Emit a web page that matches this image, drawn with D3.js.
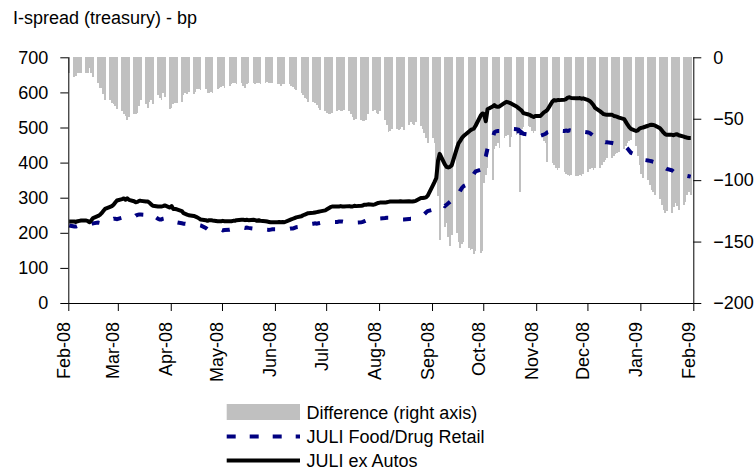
<!DOCTYPE html>
<html>
<head>
<meta charset="utf-8">
<script src="https://cdn.jsdelivr.net/npm/d3@7"></script>
<style>
  body { margin: 0; background: #fff; }
  svg text { font-family: "Liberation Sans", Arial, sans-serif; fill: #000; }
</style>
</head>
<body>
<svg id="chart" width="755" height="470"></svg>
<script>
// Trading-day series, 1 Feb 2008 (Fri) then one row per week, Mon..Fri, to 30 Jan 2009.
const difference = [
  -13,
  -16,-15,-13,-13,-13,   -13,-13,-9,-13,-16,    -21,-25,-25,-30,-35,   -35,-37,-38,-40,-42,
  -44,-46,-48,-51,-49,   -46,-46,-45,-40,-35,   -38,-41,-36,-35,-38,   -31,-33,-35,-29,-32,
  -42,-41,-38,-37,-37,   -36,-31,-29,-30,-28,   -30,-28,-26,-26,-27,   -26,-29,-29,-28,-29,
  -26,-25,-24,-23,-25,   -23,-22,-21,-21,-22,   -21,-23,-25,-22,-21,   -21,-22,-21,-21,-22,
  -21,-20,-21,-21,-21,   -22,-22,-23,-22,-22,   -22,-23,-24,-26,-27,   -29,-31,-33,-34,-36,
  -36,-37,-39,-41,-43,   -44,-45,-46,-46,-45,   -44,-43,-44,-44,-43,   -44,-46,-49,-51,-50,
  -51,-52,-52,-51,-46,   -44,-43,-45,-46,-44,   -51,-55,-61,-60,-58,   -58,-59,-58,-57,-59,
  -55,-53,-54,-55,-53,   -56,-58,-62,-66,-70,   -66,-70,-100,-113,-149, -138,-135,-146,-154,-145,
  -143,-150,-155,-152,-150, -155,-157,-156,-160,-158, -159,-158,-102,-96,-90, -100,-75,-72,-70,-74,
  -66,-64,-63,-73,-65,   -63,-62,-110,-58,-57,  -56,-57,-60,-62,-60,   -62,-65,-68,-70,-85,
  -86,-88,-90,-92,-90,   -93,-95,-96,-97,-96,   -97,-97,-96,-97,-95,   -93,-91,-90,-92,-90,
  -90,-88,-85,-84,-82,   -82,-80,-79,-78,-77,   -75,-72,-70,-68,-67,   -72,-80,-88,-95,-98,
  -100,-104,-108,-110,-112, -115,-120,-124,-127,-125, -127,-122,-119,-121,-124, -120,-118,-112,-110,-112
];

const foodDrug = [
  221,
  218,218,220,221,222,   222,222,223,225,227,   229,228,228,232,233,   237,238,240,240,239,
  243,245,245,247,246,   245,249,251,252,252,   251,252,254,256,250,   240,238,238,240,241,
  232,231,232,231,230,   227,226,226,225,224,   222,223,222,222,221,   214,210,210,211,210,
  208,208,209,207,208,   209,210,212,213,213,   215,215,214,215,214,   212,211,212,211,211,
  209,209,208,209,210,   210,211,210,211,211,   211,212,212,214,216,   218,220,222,223,224,
  226,227,226,227,228,   228,229,230,230,231,   231,232,232,232,231,   231,230,230,230,229,
  230,231,233,235,237,   238,239,240,240,241,   242,243,243,242,241,   240,239,238,238,238,
  239,240,240,241,242,   244,248,253,258,262,   266,270,275,280,282,   276,280,284,288,292,
  300,310,320,328,333,   340,350,360,368,375,   380,383,400,418,440,   470,486,489,490,490,
  492,494,495,495,496,   495,494,460,486,482,   480,478,476,475,476,   476,478,480,482,486,
  490,490,489,490,491,   490,491,490,492,491,   490,491,492,490,488,   486,484,480,476,472,
  466,462,460,458,458,   456,455,455,454,453,   450,445,440,434,428,   422,417,413,410,408,
  406,405,404,402,401,   398,395,390,385,382,   378,374,370,368,366,   364,363,362,361,360
];

const exAutos = [
  232,
  232,231,233,234,235,   235,233,230,236,242,   248,251,256,262,268,   274,276,280,286,292,
  296,298,294,298,294,   290,287,288,291,291,   289,289,286,281,277,   275,275,275,276,278,
  272,276,268,268,267,   262,256,254,252,250,   248,246,244,241,238,   236,234,236,236,235,
  233,233,233,234,233,   233,233,234,234,236,   237,237,236,237,236,   237,236,234,236,234,
  233,232,231,230,230,   230,231,230,231,230,   236,238,240,242,244,   247,250,252,254,256,
  257,258,259,260,261,   264,267,270,273,275,   275,275,276,275,275,   276,275,275,277,276,
  277,278,280,280,281,   280,281,283,285,286,   286,287,288,289,289,   289,289,290,289,289,
  290,289,289,290,291,   299,299,300,301,306,   335,345,356,405,425,   395,388,386,388,392,
  440,455,462,470,476,   488,492,495,497,505,   534,540,538,518,552,   560,564,560,559,560,
  570,573,572,570,568,   560,556,552,548,541,   537,535,532,530,533,   533,538,543,546,550,
  574,578,577,578,578,   579,581,585,586,584,   583,583,584,582,583,   578,575,570,564,556,
  546,542,538,537,536,   536,533,532,530,528,   524,516,508,501,496,   490,492,497,499,500,
  505,507,508,507,506,   498,492,486,481,479,   479,478,480,481,478,   474,472,471,470,470
];

const monthLabels = ["Feb-08","Mar-08","Apr-08","May-08","Jun-08","Jul-08","Aug-08",
                     "Sep-08","Oct-08","Nov-08","Dec-08","Jan-09","Feb-09"];
const leftTicks = [0, 100, 200, 300, 400, 500, 600, 700];
const rightTicks = [-200, -150, -100, -50, 0];

const titleText = "I-spread (treasury) - bp";
const legendLabels = ["Difference (right axis)", "JULI Food/Drug Retail", "JULI ex Autos"];

// Business days carrying the series
const days = d3.timeDay.range(new Date(2008, 1, 1), new Date(2009, 0, 31))
  .filter(d => d.getDay() > 0 && d.getDay() < 6);

const rows = days.map((d, i) => ({
  date: d,
  diff: difference[i],
  food: foodDrug[i],
  ex: exAutos[i]
}));

const svg = d3.select("#chart");
const plotLeft = 68.3, plotRight = 693.3, plotTop = 57.3, plotBottom = 303;

const x = d3.scaleTime()
  .domain([new Date(2008, 1, 1), new Date(2009, 1, 1)])
  .range([plotLeft, plotRight]);
const yL = d3.scaleLinear().domain([0, 700]).range([plotBottom, plotTop]);
const yR = d3.scaleLinear().domain([-200, 0]).range([plotBottom, plotTop]);

// Difference columns hanging from the right-axis zero line
svg.append("g")
  .attr("shape-rendering", "crispEdges")
  .selectAll("rect")
  .data(rows)
  .join("rect")
  .attr("x", d => x(d.date))
  .attr("width", d => x(d3.timeDay.offset(d.date, 1)) - x(d.date))
  .attr("y", yR(0))
  .attr("height", d => yR(d.diff) - yR(0))
  .attr("fill", "#c0c0c0");

const mid = d => new Date(+d.date + 12 * 3600 * 1000);

// Food/Drug Retail, dashed navy
svg.append("path")
  .datum(rows)
  .attr("fill", "none")
  .attr("stroke", "#000080")
  .attr("stroke-width", 4)
  .attr("stroke-dasharray", "8,15")
  .attr("d", d3.line().x(d => x(mid(d))).y(d => yL(d.food)));

// ex Autos, thick black
svg.append("path")
  .datum(rows)
  .attr("fill", "none")
  .attr("stroke", "#000")
  .attr("stroke-width", 4)
  .attr("stroke-linejoin", "round")
  .attr("d", d3.line().x(d => x(mid(d))).y(d => yL(d.ex)));

// Axes
const monthTicks = d3.timeMonth.range(new Date(2008, 1, 1), new Date(2009, 1, 2));

const xAxis = svg.append("g")
  .attr("transform", `translate(0,${plotBottom})`)
  .call(d3.axisBottom(x).tickValues(monthTicks).tickSize(8)
    .tickFormat((d, i) => monthLabels[i]));
xAxis.selectAll("text")
  .attr("font-size", 18)
  .attr("text-anchor", "end")
  .attr("dy", null)
  .attr("y", null)
  .attr("transform", "translate(1,19) rotate(-90)");

const yAxisL = svg.append("g")
  .attr("transform", `translate(${plotLeft},0)`)
  .call(d3.axisLeft(yL).tickValues(leftTicks).tickSize(8).tickPadding(12));
yAxisL.selectAll("text").attr("font-size", 18);

const yAxisR = svg.append("g")
  .attr("transform", `translate(${plotRight},0)`)
  .call(d3.axisRight(yR).tickValues(rightTicks).tickSize(8).tickPadding(12));
yAxisR.selectAll("text").attr("font-size", 18);

// plain axis lines without end caps
xAxis.select(".domain").attr("stroke", "#000").attr("d", `M${plotLeft},0.5H${plotRight}`);
yAxisL.select(".domain").attr("stroke", "#000").attr("d", `M0.5,${plotTop}V${plotBottom}`);
yAxisR.select(".domain").attr("stroke", "#000").attr("d", `M0.5,${plotTop}V${plotBottom}`);
svg.selectAll(".tick line").attr("stroke", "#000");

// Title
svg.append("text")
  .attr("x", 13).attr("y", 23.5)
  .attr("font-size", 18)
  .text(titleText);

// Legend
const lg = svg.append("g");
const lx0 = 226.7, lx1 = 300, tx = 306.5;
const rowsY = [412, 436.5, 460.5];
lg.append("rect").attr("x", lx0).attr("y", rowsY[0] - 8).attr("width", lx1 - lx0).attr("height", 16)
  .attr("fill", "#c0c0c0");
lg.append("line").attr("x1", lx0).attr("x2", lx1).attr("y1", rowsY[1]).attr("y2", rowsY[1])
  .attr("stroke", "#000080").attr("stroke-width", 4).attr("stroke-dasharray", "9,14");
lg.append("line").attr("x1", lx0).attr("x2", lx1).attr("y1", rowsY[2]).attr("y2", rowsY[2])
  .attr("stroke", "#000").attr("stroke-width", 4);
lg.selectAll("text").data(legendLabels).join("text")
  .attr("x", tx).attr("y", (d, i) => rowsY[i] + 6.5)
  .attr("font-size", 18)
  .text(d => d);
</script>
</body>
</html>
